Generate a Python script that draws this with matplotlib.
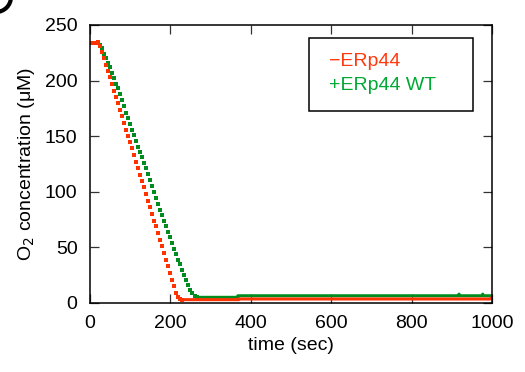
import matplotlib
matplotlib.use("Agg")
import matplotlib.pyplot as plt
from matplotlib.patches import Arc, Rectangle

plt.rcParams['font.family'] = ['Liberation Sans', 'DejaVu Sans']

# sampled points, every 5 s (descent part, drawn as dots)
red_t = [0, 5, 10, 15, 20, 25, 30, 35, 40, 45, 50, 55, 60, 65, 70, 75, 80, 85, 90, 95,
         100, 105, 110, 115, 120, 125, 130, 135, 140, 145, 150, 155, 160, 165, 170, 175,
         180, 185, 190, 195, 200, 205, 210, 215, 220, 225, 230]
red_o2 = [234, 234, 234, 234, 235, 231, 226, 220, 214, 209, 203, 197, 191, 185, 180, 174,
          168, 162, 156, 150, 145, 139, 133, 127, 121, 115, 110, 104, 98, 92, 86, 80, 74,
          69, 63, 57, 51, 45, 39, 33, 27, 21, 15, 9, 5, 4, 3]

green_t = [0, 5, 10, 15, 20, 25, 30, 35, 40, 45, 50, 55, 60, 65, 70, 75, 80, 85, 90, 95,
           100, 105, 110, 115, 120, 125, 130, 135, 140, 145, 150, 155, 160, 165, 170, 175,
           180, 185, 190, 195, 200, 205, 210, 215, 220, 225, 230, 235, 240, 245, 250, 255,
           260, 265]
green_o2 = [234, 234, 234, 234, 234, 232, 229, 224, 220, 216, 212, 207, 202, 197, 193, 188,
            183, 177, 171, 166, 161, 156, 151, 146, 140, 136, 131, 126, 121, 116, 111, 105,
            100, 94, 89, 84, 79, 74, 69, 64, 59, 54, 49, 44, 39, 35, 30, 25, 21, 16, 12, 9,
            6, 5]

# plateau parts (dense recording, looks like a solid line)
red_flat_t = [230, 370, 370, 995, 1000]
red_flat_o2 = [3, 3, 3.6, 3.6, 5]
green_flat_t = [265, 368, 368, 916, 918, 920, 975, 977, 979, 1000]
green_flat_o2 = [5.1, 5.1, 6.5, 6.5, 8, 6.5, 6.5, 8, 6.5, 6.5]

labels = ['\u2212ERp44', '+ERp44 WT']

red = '#ff3300'
green = '#008c1e'

fig = plt.figure(figsize=(5.25, 3.72), dpi=100)
ax = fig.add_axes([0.1714, 0.1855, 0.7657, 0.7473])

ax.plot(green_flat_t, green_flat_o2, color=green, lw=2.2, solid_capstyle='butt')
ax.plot(green_t, green_o2, 's', color=green, ms=2.3, mew=0)
ax.plot(red_flat_t, red_flat_o2, color=red, lw=2.2, solid_capstyle='butt')
ax.plot(red_t, red_o2, 's', color=red, ms=2.3, mew=0)

ax.set_xlim(0, 1000)
ax.set_ylim(0, 250)
ax.set_xticks([0, 200, 400, 600, 800, 1000])
ax.set_yticks([0, 50, 100, 150, 200, 250])
ax.tick_params(direction='in', length=6.5, width=0.9, color='#333333',
               top=True, right=True, labelsize=14, pad=9)
for s in ax.spines.values():
    s.set_linewidth(1.1)

ax.set_xlabel('time (sec)', fontsize=14, labelpad=3)
ax.set_ylabel('O$_2$ concentration (\u03bcM)', fontsize=14, labelpad=6)

# legend box drawn by hand
ax.add_patch(Rectangle((0.545, 0.691), 0.408, 0.262, transform=ax.transAxes,
                       fill=True, facecolor='white', edgecolor='black', lw=1.1, zorder=5))
ax.text(0.595, 0.867, labels[0], color='#ff3a10', fontsize=14, va='center',
        transform=ax.transAxes, zorder=6)
ax.text(0.595, 0.781, labels[1], color='#00a835', fontsize=14, va='center',
        transform=ax.transAxes, zorder=6)

# piece of the panel letter, cut off at the top-left corner
fig.add_artist(Arc((-4 / 525, 1 + 3 / 372), 30 / 525, 30 / 372, theta1=270, theta2=360,
                   transform=fig.transFigure, lw=3, color='black'))

fig.savefig('out.png', dpi=100)
